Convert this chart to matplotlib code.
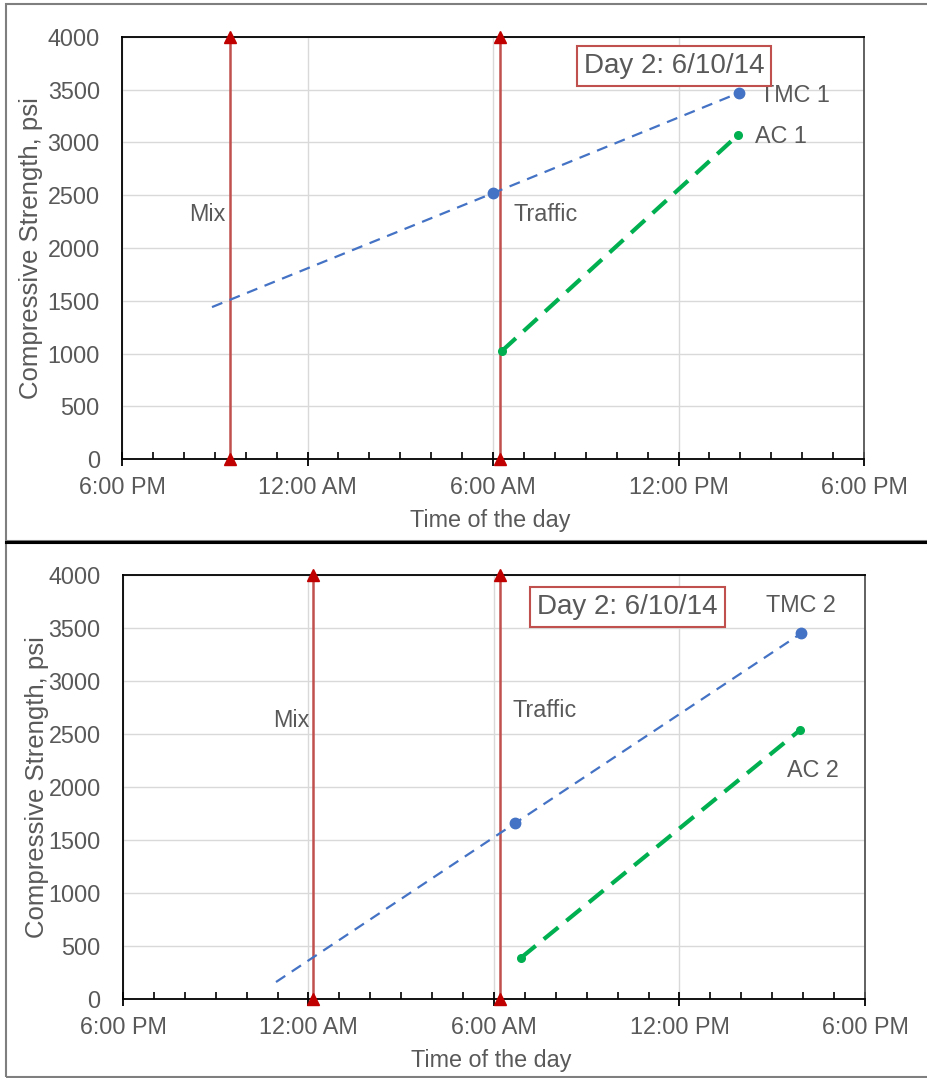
import matplotlib.pyplot as plt
from matplotlib.lines import Line2D
from matplotlib.patches import Rectangle

plt.rcParams['font.family'] = ['Liberation Sans', 'DejaVu Sans']

# times are hours after 6:00 PM on 6/9/14
x_ticklabels = ['6:00 PM', '12:00 AM', '6:00 AM', '12:00 PM', '6:00 PM']
y_ticks = [0, 500, 1000, 1500, 2000, 2500, 3000, 3500, 4000]

# --- top chart: TMC 1 / AC 1 ---
mix_1 = 3.5
traffic_1 = 12.23
tmc1_t = [12.0, 19.95]
tmc1_psi = [2520, 3470]
tmc1_trend_t = [2.91, 12.0, 19.95]
tmc1_trend_psi = [1440, 2520, 3470]
ac1_t = [12.29, 19.92]
ac1_psi = [1025, 3070]

# --- bottom chart: TMC 2 / AC 2 ---
mix_2 = 6.15
traffic_2 = 12.2
tmc2_t = [12.69, 21.94]
tmc2_psi = [1660, 3450]
tmc2_trend_t = [4.95, 12.69, 21.94]
tmc2_trend_psi = [160, 1660, 3450]
ac2_t = [12.88, 21.91]
ac2_psi = [390, 2540]

GRAY = '#595959'
BLUE = '#4472c4'
GREEN = '#00b050'
RED_LINE = '#c0504d'
RED_MARK = '#c00000'
FS = 16.8

fig = plt.figure(figsize=(9.28, 10.78), dpi=100)
ax1 = fig.add_axes([0.1315, 0.5742, 0.7996, 0.3915])
ax2 = fig.add_axes([0.1325, 0.0733, 0.7996, 0.3933])


def style_axes(ax, ylab_x):
    ax.set_xlim(0, 24)
    ax.set_ylim(0, 4000)
    ax.set_xticks([0, 6, 12, 18, 24])
    ax.set_xticklabels(x_ticklabels)
    ax.set_xticks(range(0, 25), minor=True)
    ax.set_yticks(y_ticks)
    ax.tick_params(axis='x', which='major', direction='inout', length=10, width=1.3,
                   labelsize=FS, labelcolor=GRAY, pad=7)
    ax.tick_params(axis='x', which='minor', direction='in', length=5, width=1.2)
    ax.tick_params(axis='y', length=0, labelsize=FS, labelcolor=GRAY, pad=16)
    ax.grid(True, which='major', color='#d9d9d9', lw=1)
    ax.set_axisbelow(True)
    for s in ax.spines.values():
        s.set_color('black')
        s.set_linewidth(1.3)
    ax.spines['right'].set_color('#555555')
    ax.set_xlabel('Time of the day', fontsize=FS, color=GRAY, va='center')
    ax.xaxis.set_label_coords(0.496, -0.145)
    ax.set_ylabel('Compressive Strength, psi', fontsize=18.5, color=GRAY)
    ax.yaxis.set_label_coords(ylab_x, 0.5)


def event_line(ax, t):
    ax.plot([t, t], [0, 4000], color=RED_LINE, lw=1.8, zorder=3, clip_on=False)
    ax.plot([t, t], [0, 4000], ls='none', marker='^', ms=8, color=RED_MARK,
            zorder=4, clip_on=False)


def draw_panel(ax, mix, traffic, tmc_t, tmc_psi, trend_t, trend_psi, ac_t, ac_psi):
    event_line(ax, mix)
    event_line(ax, traffic)
    ax.plot(trend_t, trend_psi, color=BLUE, lw=1.6, dashes=(5, 3.5), zorder=5)
    ax.plot(tmc_t, tmc_psi, ls='none', marker='o', ms=7.5, color=BLUE, zorder=6)
    ax.plot(ac_t, ac_psi, color=GREEN, lw=3, dashes=(4.5, 2.5), marker='o', ms=5.5, zorder=6)


def date_box(ax, x, y):
    ax.text(x, y, 'Day 2: 6/10/14', transform=ax.transAxes, fontsize=20, color=GRAY,
            ha='center', va='center', zorder=7,
            bbox=dict(boxstyle='square,pad=0.25', fc='white', ec=RED_LINE, lw=1.5))


style_axes(ax1, -0.106)
draw_panel(ax1, mix_1, traffic_1, tmc1_t, tmc1_psi, tmc1_trend_t, tmc1_trend_psi, ac1_t, ac1_psi)
date_box(ax1, 0.744, 0.932)
ax1.text(3.35, 2313, 'Mix', fontsize=FS, color=GRAY, ha='right', va='center')
ax1.text(12.65, 2313, 'Traffic', fontsize=FS, color=GRAY, ha='left', va='center')
ax1.text(20.63, 3450, 'TMC 1', fontsize=FS, color=GRAY, ha='left', va='center')
ax1.text(20.47, 3052, 'AC 1', fontsize=FS, color=GRAY, ha='left', va='center')

style_axes(ax2, -0.1)
draw_panel(ax2, mix_2, traffic_2, tmc2_t, tmc2_psi, tmc2_trend_t, tmc2_trend_psi, ac2_t, ac2_psi)
date_box(ax2, 0.680, 0.925)
ax2.text(6.02, 2632, 'Mix', fontsize=FS, color=GRAY, ha='right', va='center')
ax2.text(12.6, 2726, 'Traffic', fontsize=FS, color=GRAY, ha='left', va='center')
ax2.text(21.94, 3708, 'TMC 2', fontsize=FS, color=GRAY, ha='center', va='center')
ax2.text(22.3, 2151, 'AC 2', fontsize=FS, color=GRAY, ha='center', va='center')

# frames around the two charts and the divider between them
W, H = 928, 1078
fig.add_artist(Rectangle((6 / W, 1 - 541 / H), 1.0, (541 - 4) / H, transform=fig.transFigure,
                         fill=False, ec='#7f7f7f', lw=1.5))
fig.add_artist(Rectangle((6 / W, 1 - 1077 / H), 1.0, (1077 - 543) / H, transform=fig.transFigure,
                         fill=False, ec='#7f7f7f', lw=1.5))
fig.add_artist(Line2D([6 / W, 1], [1 - 542 / H, 1 - 542 / H], transform=fig.transFigure,
                      color='black', lw=2.2))

fig.savefig('out.png', dpi=100, facecolor='white')
